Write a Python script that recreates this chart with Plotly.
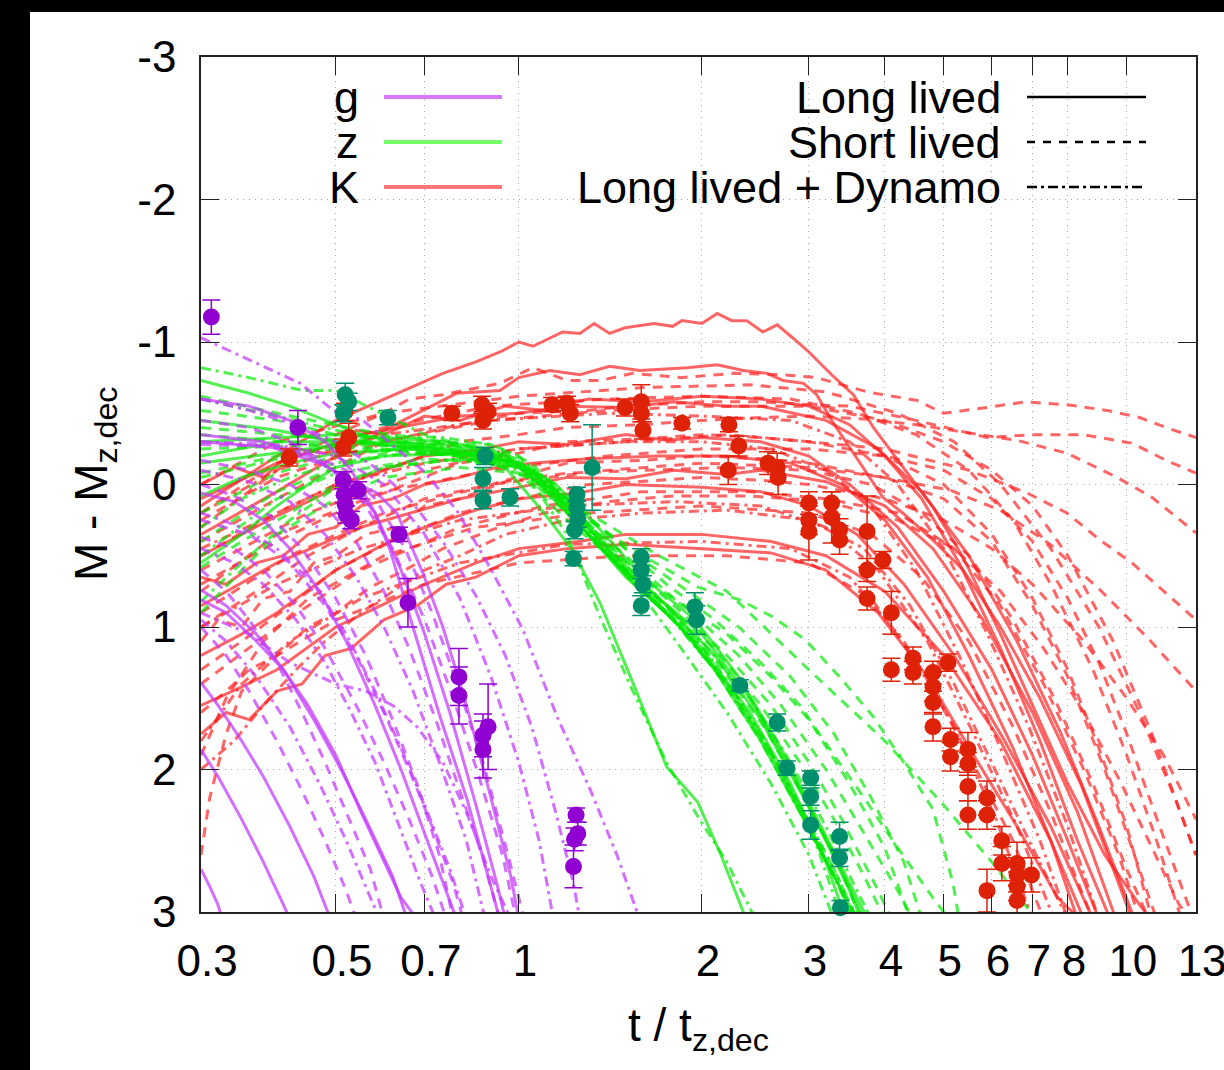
import math
import plotly.graph_objects as go

# ---------------------------------------------------------------------------
# Model light curves: (model, t / t_z,dec, M - M_z,dec)
# model: "long" = Long lived, "short" = Short lived, "dynamo" = Long lived + Dynamo
# ---------------------------------------------------------------------------
K_CURVES = [
    ("long",
     [0.3, 0.4, 0.5, 0.645, 0.75, 0.85, 0.931, 1.0, 1.055, 1.18, 1.26, 1.33, 1.41, 1.495, 1.67, 1.79, 1.855, 2.0,
      2.12, 2.24, 2.37, 2.52, 2.66, 2.82, 3.0, 3.27, 3.55, 3.83, 4.12, 4.45, 4.8, 5.26, 5.48, 6.2, 7.0, 8.0, 9.2,
      10.5, 11.2],
     [0.15, -0.2, -0.45, -0.66, -0.78, -0.86, -0.93, -1.0, -0.97, -1.07, -1.06, -1.13, -1.06, -1.1, -1.13, -1.11,
      -1.15, -1.13, -1.2, -1.15, -1.15, -1.07, -1.12, -1.03, -0.93, -0.77, -0.63, -0.40, -0.22, -0.03, 0.16, 0.44,
      0.58, 1.05, 1.55, 2.1, 2.6, 2.95, 3.1]),
    ("long",
     [0.3, 0.4, 0.5, 0.645, 0.79, 0.931, 1.0, 1.125, 1.26, 1.41, 1.58, 1.89, 2.12, 2.34, 2.56, 2.72, 2.94, 3.09, 3.27,
      3.5, 3.74, 3.97, 4.28, 4.8, 5.38, 6.2, 7.2, 8.4, 9.7, 10.3],
     [0.35, 0.05, -0.2, -0.45, -0.64, -0.66, -0.75, -0.8, -0.77, -0.83, -0.8, -0.82, -0.84, -0.8, -0.78, -0.73, -0.71,
      -0.63, -0.45, -0.26, -0.08, 0.09, 0.2, 0.39, 0.6, 1.0, 1.5, 2.1, 2.8, 3.1]),
    ("long",
     [0.3, 0.35, 0.4, 0.45, 0.5, 0.6, 0.7, 0.85, 1.0, 1.2, 1.5, 1.75, 2.0, 2.5, 3.0, 3.5, 4.2, 5.0, 6.0, 7.0, 8.0, 9.0],
     [0.5, 0.35, 0.22, 0.12, 0.02, -0.1, -0.2, -0.24, -0.3, -0.28, -0.35, -0.31, -0.33, -0.3, -0.2, 0.0, 0.3, 0.75,
      1.3, 1.9, 2.5, 3.05]),
    ("long",
     [0.3, 0.35, 0.4, 0.5, 0.6, 0.7, 0.85, 1.0, 1.25, 1.5, 2.0, 2.5, 3.0, 3.6, 4.3, 5.2, 6.3, 7.5, 8.8],
     [1.2, 1.05, 0.9, 0.6, 0.42, 0.3, 0.18, 0.1, 0.06, 0.0, 0.02, 0.05, 0.15, 0.35, 0.7, 1.2, 1.8, 2.4, 3.05]),
    ("long",
     [0.3, 0.35, 0.4, 0.5, 0.6, 0.7, 0.85, 1.0, 1.25, 1.5, 2.0, 2.6, 3.2, 4.0, 5.0, 6.2, 7.5, 8.5],
     [1.55, 1.42, 1.3, 1.0, 0.84, 0.7, 0.55, 0.45, 0.4, 0.35, 0.35, 0.4, 0.5, 0.75, 1.2, 1.8, 2.5, 3.05]),
    ("long",
     [0.3, 0.4, 0.55, 0.8, 1.0, 1.2, 1.5, 1.8, 2.2, 2.5, 3.2, 4.0, 4.8, 5.8, 7.0, 8.3, 9.6],
     [0.85, 0.55, 0.3, 0.1, 0.02, -0.05, -0.04, -0.1, -0.07, -0.1, -0.02, 0.15, 0.45, 0.95, 1.6, 2.3, 3.05]),
    ("long",
     [0.3, 0.4, 0.55, 0.8, 1.0, 1.2, 1.5, 1.8, 2.2, 2.5, 3.2, 3.9, 4.6, 5.5, 6.6, 7.8, 9.0, 10.3],
     [0.1, -0.15, -0.35, -0.48, -0.5, -0.55, -0.54, -0.58, -0.55, -0.55, -0.45, -0.25, 0.05, 0.5, 1.1, 1.75, 2.4,
      3.05]),
    ("long",
     [0.3, 0.33, 0.37, 0.41, 0.45, 0.5, 0.55, 0.62, 0.7, 0.8, 0.92, 1.05, 1.3, 1.7, 2.2, 2.8, 3.4, 4.0, 4.7, 5.5,
      6.5, 7.5, 8.3],
     [0.65, 0.7, 0.55, 0.5, 0.35, 0.3, 0.15, 0.1, 0.0, -0.05, -0.12, -0.15, -0.18, -0.2, -0.2, -0.15, 0.0, 0.25,
      0.65, 1.2, 1.85, 2.5, 3.05]),
    ("long",
     [0.3, 0.34, 0.38, 0.43, 0.48, 0.54, 0.6, 0.7, 0.8, 0.95, 1.1, 1.3, 1.6, 2.0, 2.5, 3.0, 3.5, 4.0, 4.6, 5.3, 6.2,
      7.2, 8.3, 9.5],
     [0.0, -0.12, -0.05, -0.25, -0.22, -0.38, -0.35, -0.48, -0.45, -0.55, -0.52, -0.6, -0.58, -0.62, -0.6, -0.55,
      -0.42, -0.2, 0.1, 0.55, 1.15, 1.8, 2.5, 3.1]),
    ("long",
     [0.3, 0.33, 0.36, 0.4, 0.44, 0.48, 0.53, 0.6, 0.68, 0.76, 0.85, 1.0, 1.2, 1.5, 2.0, 2.6, 3.2, 3.9, 4.7, 5.6,
      6.6, 7.7, 8.6],
     [1.75, 1.6, 1.65, 1.45, 1.4, 1.2, 1.15, 0.95, 0.85, 0.7, 0.65, 0.5, 0.45, 0.42, 0.45, 0.48, 0.6, 0.9, 1.35, 1.9,
      2.4, 2.9, 3.1]),
    ("short",
     [0.3, 0.4, 0.5, 0.6, 0.66, 0.75, 0.93, 1.055, 1.2, 1.36, 1.54, 1.85, 2.25, 2.72, 3.09, 3.74, 4.52, 4.99, 5.89,
      6.8, 7.97, 9.28, 10.5, 11.6, 13.0],
     [0.3, -0.1, -0.35, -0.5, -0.6, -0.63, -0.71, -0.82, -0.73, -0.73, -0.78, -0.75, -0.78, -0.77, -0.75, -0.65,
      -0.59, -0.5, -0.54, -0.58, -0.56, -0.52, -0.47, -0.4, -0.33]),
    ("short",
     [0.3, 0.4, 0.6, 0.8, 1.0, 1.3, 1.5, 2.0, 2.5, 3.0, 3.5, 4.5, 5.89, 7.0, 8.47, 10.2, 11.6, 13.0],
     [0.4, 0.1, -0.3, -0.42, -0.5, -0.52, -0.55, -0.58, -0.58, -0.56, -0.55, -0.45, -0.33, -0.35, -0.35, -0.29,
      -0.17, -0.08]),
    ("short",
     [0.3, 0.4, 0.5, 0.65, 0.8, 1.0, 1.2, 1.6, 2.0, 2.5, 3.0, 3.7, 4.5, 5.5, 6.6, 7.97, 9.64, 11.0, 12.1, 13.0],
     [0.5, 0.2, 0.0, -0.15, -0.3, -0.35, -0.4, -0.42, -0.45, -0.47, -0.48, -0.46, -0.42, -0.36, -0.31, -0.22, -0.05,
      0.09, 0.23, 0.34]),
    ("short",
     [0.3, 0.4, 0.5, 0.65, 0.8, 1.0, 1.2, 1.6, 2.0, 2.5, 3.0, 4.0, 5.5, 6.86, 7.97, 9.04, 10.2, 11.3, 13.0],
     [0.7, 0.4, 0.2, 0.0, -0.15, -0.22, -0.3, -0.32, -0.35, -0.33, -0.3, -0.25, -0.1, 0.06, 0.2, 0.39, 0.55, 0.72,
      0.95]),
    ("short",
     [0.3, 0.37, 0.45, 0.55, 0.7, 0.9, 1.2, 1.6, 2.0, 2.5, 3.0, 4.0, 5.12, 6.19, 7.48, 9.04, 10.9, 13.0],
     [1.0, 0.75, 0.5, 0.3, 0.1, 0.0, -0.15, -0.17, -0.2, -0.18, -0.15, -0.05, 0.04, 0.18, 0.42, 0.74, 1.09, 1.45]),
    ("short",
     [0.3, 0.35, 0.42, 0.5, 0.65, 0.8, 1.0, 1.3, 1.7, 2.0, 2.5, 3.0, 4.0, 5.0, 6.0, 7.0, 8.5, 10.0, 11.5, 13.0],
     [1.3, 1.1, 0.85, 0.6, 0.35, 0.2, 0.1, 0.0, -0.03, -0.05, -0.03, 0.0, 0.1, 0.25, 0.45, 0.7, 1.1, 1.5, 1.9,
      2.35]),
    ("short",
     [0.3, 0.45, 0.7, 1.0, 1.5, 2.2, 3.0, 4.0, 5.0, 6.0, 7.0, 8.0, 9.0, 10.0, 11.0],
     [0.6, 0.2, -0.1, -0.25, -0.3, -0.35, -0.3, -0.2, 0.0, 0.35, 0.8, 1.3, 1.85, 2.4, 3.05]),
    ("short",
     [0.3, 0.4, 0.55, 0.8, 1.1, 1.6, 2.4, 3.2, 4.2, 5.2, 6.2, 7.3, 8.5, 9.7, 10.5],
     [1.4, 1.0, 0.6, 0.3, 0.15, 0.05, 0.05, 0.1, 0.2, 0.45, 0.85, 1.4, 2.0, 2.6, 3.05]),
    ("short",
     [0.3, 0.4, 0.6, 0.9, 1.4, 2.0, 2.8, 3.6, 4.5, 5.5, 6.5, 7.5, 8.8, 10.0, 11.2, 12.3],
     [0.2, -0.15, -0.4, -0.55, -0.6, -0.62, -0.6, -0.5, -0.35, -0.1, 0.25, 0.7, 1.3, 1.9, 2.5, 3.05]),
    ("short",
     [0.3, 0.42, 0.6, 0.9, 1.4, 2.0, 3.0, 4.0, 5.0, 6.0, 7.0, 8.0, 9.2, 10.5, 11.2],
     [0.9, 0.5, 0.2, 0.0, -0.1, -0.15, -0.12, -0.05, 0.1, 0.4, 0.85, 1.35, 2.0, 2.7, 3.05]),
    ("short",
     [0.3, 0.4, 0.6, 1.0, 1.6, 2.4, 3.2, 4.2, 5.2, 6.2, 7.5, 9.0, 10.5, 12.0, 13.0],
     [0.0, -0.3, -0.5, -0.62, -0.68, -0.7, -0.65, -0.5, -0.3, 0.0, 0.45, 1.0, 1.6, 2.2, 2.6]),
    ("short",
     [0.3, 0.33, 0.38, 0.45, 0.6, 0.85, 1.3, 2.0, 3.0, 3.8, 4.6, 5.5, 6.5, 7.5, 8.5, 8.8],
     [1.9, 1.5, 1.1, 0.8, 0.5, 0.3, 0.2, 0.15, 0.2, 0.35, 0.65, 1.1, 1.7, 2.3, 2.9, 3.05]),
    ("short",
     [0.3, 0.31, 0.33, 0.35, 0.4, 0.5, 0.7, 1.0, 1.5, 2.2, 3.0, 3.8, 4.6, 5.5, 6.5, 7.3],
     [2.6, 2.2, 1.75, 1.45, 1.2, 0.95, 0.7, 0.55, 0.5, 0.5, 0.55, 0.8, 1.3, 1.9, 2.5, 3.05]),
    ("short",
     [0.3, 0.4, 0.6, 0.9, 1.4, 2.0, 3.0, 4.0, 5.0, 6.0, 7.0, 8.0, 9.0, 10.0, 11.0, 12.0, 13.0],
     [0.75, 0.35, 0.05, -0.1, -0.2, -0.25, -0.25, -0.2, -0.1, 0.1, 0.4, 0.8, 1.25, 1.75, 2.25, 2.7, 3.1]),
    ("short",
     [0.3, 0.4, 0.6, 0.9, 1.4, 2.0, 3.0, 4.0, 5.0, 6.0, 7.0, 8.0, 9.5, 11.0, 12.5, 13.0],
     [0.25, -0.05, -0.3, -0.45, -0.52, -0.55, -0.55, -0.45, -0.3, -0.1, 0.15, 0.5, 1.1, 1.75, 2.4, 2.6]),
    ("short",
     [0.3, 0.32, 0.35, 0.38, 0.42, 0.46, 0.5, 0.56, 0.63, 0.7, 0.8, 0.95, 1.2, 1.6, 2.2, 3.0, 3.8, 4.6, 5.5, 6.5,
      7.6, 8.8, 10.0, 11.0],
     [1.1, 0.95, 1.0, 0.8, 0.75, 0.55, 0.5, 0.35, 0.3, 0.15, 0.1, -0.02, -0.08, -0.1, -0.12, -0.1, 0.0, 0.2, 0.5,
      0.95, 1.5, 2.1, 2.7, 3.1]),
    ("short",
     [0.3, 0.33, 0.36, 0.4, 0.45, 0.5, 0.57, 0.65, 0.75, 0.9, 1.1, 1.4, 1.8, 2.4, 3.2, 4.2, 5.2, 6.2, 7.3, 8.5, 9.8,
      11.0, 12.2, 13.0],
     [1.6, 1.45, 1.3, 1.2, 1.0, 0.9, 0.72, 0.6, 0.45, 0.32, 0.2, 0.12, 0.08, 0.08, 0.12, 0.25, 0.45, 0.75, 1.15,
      1.6, 2.1, 2.55, 2.95, 3.1]),
    ("dynamo",
     [0.3, 0.4, 0.5, 0.7, 1.0, 1.5, 2.0, 2.6, 3.2, 3.8, 4.5, 5.3, 6.2, 7.2, 8.0],
     [0.45, 0.2, 0.0, -0.15, -0.25, -0.3, -0.3, -0.25, -0.1, 0.15, 0.6, 1.2, 1.85, 2.5, 3.05]),
    ("dynamo",
     [0.3, 0.4, 0.55, 0.8, 1.2, 1.8, 2.5, 3.2, 3.9, 4.7, 5.6, 6.6, 7.6],
     [1.0, 0.7, 0.45, 0.25, 0.15, 0.12, 0.15, 0.3, 0.6, 1.1, 1.75, 2.4, 3.05]),
    ("dynamo",
     [0.3, 0.35, 0.42, 0.55, 0.8, 1.2, 2.0, 2.8, 3.5, 4.3, 5.2, 6.1, 7.0],
     [1.8, 1.4, 1.1, 0.8, 0.55, 0.42, 0.4, 0.45, 0.65, 1.1, 1.7, 2.35, 3.05]),
    ("dynamo",
     [0.3, 0.4, 0.6, 0.9, 1.4, 2.0, 2.8, 3.5, 4.2, 5.0, 5.9, 6.9, 8.0, 9.0],
     [0.2, -0.1, -0.35, -0.45, -0.5, -0.48, -0.45, -0.3, 0.0, 0.45, 1.05, 1.7, 2.4, 3.05]),
    ("dynamo",
     [0.3, 0.34, 0.38, 0.43, 0.48, 0.55, 0.62, 0.7, 0.8, 0.95, 1.2, 1.6, 2.2, 3.0, 3.7, 4.4, 5.2, 6.0, 7.0, 8.0],
     [2.0, 1.8, 1.55, 1.3, 1.1, 0.9, 0.75, 0.6, 0.5, 0.35, 0.25, 0.2, 0.18, 0.25, 0.45, 0.85, 1.4, 1.95, 2.55,
      3.05]),
]

Z_CURVES = [
    ("long",
     [0.3, 0.36, 0.42, 0.48, 0.55, 0.65, 0.8, 1.0, 1.15, 1.3, 1.5, 1.8, 2.1, 2.5, 2.9, 3.3, 3.6],
     [-0.73, -0.64, -0.55, -0.45, -0.35, -0.28, -0.22, -0.15, 0.05, 0.35, 0.65, 0.95, 1.3, 1.8, 2.3, 2.75, 3.05]),
    ("long",
     [0.3, 0.4, 0.55, 0.75, 0.95, 1.1, 1.22, 1.36, 1.54, 1.75, 1.97, 2.15, 2.34, 2.4],
     [-0.2, -0.3, -0.3, -0.22, -0.12, 0.2, 0.45, 0.83, 1.39, 1.98, 2.23, 2.6, 3.0, 3.1]),
    ("long",
     [0.3, 0.35, 0.42, 0.5, 0.65, 0.85, 1.0, 1.2, 1.4, 1.7, 2.0, 2.4, 2.8, 3.2, 3.5, 3.7],
     [0.08, -0.05, -0.15, -0.22, -0.25, -0.2, -0.12, 0.15, 0.45, 0.8, 1.05, 1.5, 2.0, 2.5, 2.85, 3.1]),
    ("long",
     [0.3, 0.35, 0.4, 0.45, 0.5, 0.6, 0.8, 1.0, 1.2, 1.45, 1.75, 2.1, 2.5, 2.9, 3.3, 3.7],
     [0.55, 0.35, 0.15, 0.0, -0.12, -0.2, -0.22, -0.15, 0.2, 0.55, 0.85, 1.2, 1.65, 2.15, 2.6, 3.05]),
    ("long",
     [0.3, 0.4, 0.5, 0.65, 0.85, 1.0, 1.15, 1.35, 1.6, 1.95, 2.3, 2.7, 3.1, 3.5, 3.75],
     [-0.45, -0.38, -0.3, -0.27, -0.22, -0.15, 0.0, 0.3, 0.65, 0.95, 1.35, 1.85, 2.35, 2.8, 3.05]),
    ("long",
     [0.3, 0.4, 0.55, 0.75, 0.95, 1.1, 1.3, 1.55, 1.85, 2.2, 2.6, 3.0, 3.35, 3.55],
     [-0.15, -0.22, -0.3, -0.28, -0.2, -0.02, 0.35, 0.7, 1.0, 1.4, 1.9, 2.4, 2.8, 3.05]),
    ("long",
     [0.3, 0.4, 0.5, 0.6, 0.75, 0.9, 1.05, 1.2, 1.4, 1.65, 2.0, 2.4, 2.8, 3.2, 3.45],
     [-0.3, -0.33, -0.35, -0.33, -0.3, -0.25, -0.1, 0.15, 0.45, 0.8, 1.15, 1.6, 2.1, 2.65, 3.05]),
    ("short",
     [0.3, 0.4, 0.5, 0.7, 0.9, 1.1, 1.3, 1.6, 1.97, 2.31, 2.62, 2.96, 3.37, 3.83, 4.24, 4.8, 5.18, 5.3],
     [-0.52, -0.45, -0.35, -0.28, -0.2, -0.05, 0.25, 0.5, 0.72, 0.81, 0.93, 1.09, 1.35, 1.63, 1.91, 2.28, 2.8,
      3.05]),
    ("short",
     [0.3, 0.35, 0.42, 0.5, 0.6, 0.8, 1.0, 1.2, 1.5, 1.8, 2.2, 2.6, 3.0, 3.5, 4.0, 4.4],
     [0.58, 0.4, 0.2, 0.0, -0.12, -0.18, -0.12, 0.15, 0.5, 0.8, 1.05, 1.35, 1.65, 2.1, 2.55, 3.05]),
    ("short",
     [0.3, 0.5, 0.8, 1.0, 1.3, 1.7, 2.2, 3.0, 4.0, 5.0, 6.0, 7.1],
     [-0.25, -0.28, -0.2, -0.12, 0.2, 0.5, 0.75, 1.3, 1.8, 2.25, 2.65, 3.05]),
    ("short",
     [0.3, 0.35, 0.4, 0.5, 0.6, 0.8, 1.0, 1.2, 1.5, 1.8, 2.1, 2.5, 2.9, 3.3, 3.6],
     [0.9, 0.6, 0.35, 0.1, -0.05, -0.12, -0.08, 0.25, 0.6, 0.95, 1.3, 1.75, 2.25, 2.7, 3.05]),
    ("short",
     [0.3, 0.4, 0.55, 0.75, 1.0, 1.2, 1.5, 1.9, 2.3, 2.8, 3.3, 3.8, 4.3, 4.6],
     [-0.08, -0.2, -0.28, -0.25, -0.15, 0.1, 0.45, 0.75, 1.0, 1.35, 1.75, 2.2, 2.65, 3.05]),
    ("short",
     [0.3, 0.4, 0.55, 0.8, 1.0, 1.2, 1.45, 1.75, 2.1, 2.5, 2.9, 3.3, 3.7, 4.0],
     [-0.35, -0.3, -0.25, -0.2, -0.12, 0.12, 0.5, 0.85, 1.15, 1.55, 1.95, 2.35, 2.75, 3.05]),
    ("short",
     [0.3, 0.4, 0.5, 0.7, 0.9, 1.05, 1.25, 1.5, 1.8, 2.15, 2.55, 2.95, 3.35, 3.65],
     [0.2, -0.08, -0.2, -0.27, -0.22, -0.08, 0.28, 0.62, 0.92, 1.28, 1.72, 2.2, 2.65, 3.05]),
    ("short",
     [0.3, 0.4, 0.55, 0.75, 0.95, 1.1, 1.3, 1.55, 1.9, 2.3, 2.7, 3.2, 3.7, 4.2, 4.45],
     [-0.62, -0.5, -0.38, -0.3, -0.22, -0.05, 0.28, 0.6, 0.88, 1.2, 1.55, 2.0, 2.45, 2.85, 3.05]),
    ("short",
     [0.3, 0.4, 0.5, 0.6, 0.75, 0.9, 1.05, 1.25, 1.5, 1.8, 2.2, 2.6, 3.0, 3.4, 3.9, 4.1],
     [0.4, 0.05, -0.12, -0.22, -0.3, -0.28, -0.15, 0.2, 0.55, 0.85, 1.2, 1.55, 1.95, 2.35, 2.85, 3.05]),
    ("short",
     [0.3, 0.4, 0.55, 0.7, 0.85, 1.0, 1.2, 1.45, 1.75, 2.1, 2.5, 2.9, 3.3, 3.7, 4.2, 4.8, 5.1],
     [-0.4, -0.35, -0.3, -0.3, -0.25, -0.15, 0.1, 0.4, 0.7, 0.95, 1.25, 1.55, 1.9, 2.2, 2.55, 2.9, 3.05]),
    ("dynamo",
     [0.3, 0.36, 0.44, 0.5, 0.55, 0.7, 0.85, 1.0, 1.15, 1.3, 1.5, 1.8, 2.1, 2.5, 2.9, 3.3, 3.6],
     [-0.82, -0.75, -0.66, -0.66, -0.57, -0.35, -0.25, -0.18, 0.0, 0.3, 0.6, 0.9, 1.25, 1.75, 2.25, 2.7, 3.05]),
    ("dynamo",
     [0.3, 0.35, 0.42, 0.5, 0.65, 0.85, 1.0, 1.25, 1.55, 1.85, 2.2, 2.6, 3.0, 3.3],
     [0.3, 0.1, -0.05, -0.15, -0.22, -0.2, -0.12, 0.25, 0.7, 1.15, 1.6, 2.1, 2.6, 3.05]),
    ("dynamo",
     [0.3, 0.4, 0.5, 0.65, 0.85, 1.0, 1.2, 1.36, 1.54, 1.75, 1.97, 2.2, 2.45],
     [-0.6, -0.48, -0.38, -0.3, -0.22, -0.15, 0.35, 0.93, 1.45, 1.95, 2.33, 2.65, 3.05]),
    ("dynamo",
     [0.3, 0.4, 0.5, 0.7, 0.9, 1.1, 1.3, 1.6, 2.0, 2.4, 2.8, 3.2, 3.6, 3.8],
     [0.5, 0.1, -0.08, -0.18, -0.15, 0.0, 0.35, 0.75, 1.1, 1.5, 1.95, 2.4, 2.85, 3.05]),
    ("dynamo",
     [0.3, 0.35, 0.42, 0.5, 0.6, 0.8, 1.0, 1.2, 1.45, 1.75, 2.1, 2.5, 2.9, 3.3, 3.55],
     [0.82, 0.55, 0.25, 0.02, -0.12, -0.18, -0.1, 0.2, 0.55, 0.9, 1.3, 1.8, 2.3, 2.75, 3.05]),
    ("dynamo",
     [0.3, 0.4, 0.5, 0.6, 0.75, 0.9, 1.0, 1.15, 1.35, 1.6, 1.9, 2.3, 2.7, 3.1, 3.4],
     [-0.05, -0.18, -0.28, -0.34, -0.33, -0.28, -0.2, 0.05, 0.4, 0.75, 1.05, 1.5, 2.0, 2.55, 3.05]),
]

G_CURVES = [
    ("long",
     [0.3, 0.394, 0.476, 0.527, 0.584, 0.63, 0.695, 0.75, 0.82, 0.9, 0.97, 1.0],
     [-0.3, -0.26, -0.14, -0.03, 0.06, 0.2, 0.62, 1.0, 1.55, 2.2, 2.75, 3.05]),
    ("long",
     [0.3, 0.38, 0.45, 0.52, 0.58, 0.614, 0.662, 0.742, 0.822, 0.896, 0.93],
     [-0.35, -0.3, -0.2, -0.05, 0.2, 0.46, 0.93, 1.63, 2.21, 2.8, 3.05]),
    ("long",
     [0.3, 0.36, 0.42, 0.48, 0.53, 0.58, 0.64, 0.7, 0.77, 0.85, 0.92, 0.95],
     [-0.6, -0.55, -0.45, -0.3, -0.1, 0.2, 0.6, 1.05, 1.6, 2.25, 2.8, 3.05]),
    ("long",
     [0.3, 0.34, 0.38, 0.42, 0.47, 0.52, 0.58, 0.64, 0.7, 0.76, 0.79],
     [0.06, 0.12, 0.25, 0.45, 0.75, 1.1, 1.55, 2.0, 2.45, 2.85, 3.05]),
    ("long",
     [0.3, 0.33, 0.37, 0.41, 0.46, 0.51, 0.56, 0.62, 0.655],
     [0.74, 0.85, 1.05, 1.3, 1.65, 2.0, 2.35, 2.75, 3.05]),
    ("long",
     [0.3, 0.32, 0.35, 0.38, 0.42, 0.46, 0.49],
     [1.39, 1.55, 1.8, 2.05, 2.4, 2.75, 3.05]),
    ("long",
     [0.3, 0.31, 0.32, 0.325],
     [2.7, 2.82, 2.95, 3.05]),
    ("long",
     [0.3, 0.32, 0.35, 0.38, 0.41, 0.42],
     [1.86, 2.05, 2.35, 2.65, 2.95, 3.05]),
    ("long",
     [0.3, 0.33, 0.37, 0.41, 0.45, 0.5, 0.55, 0.6, 0.64, 0.68],
     [0.81, 0.9, 1.1, 1.3, 1.55, 1.9, 2.3, 2.65, 2.9, 3.05]),
    ("short",
     [0.3, 0.36, 0.42, 0.48, 0.54, 0.6, 0.66, 0.73, 0.8, 0.87, 0.93],
     [-0.17, -0.1, 0.0, 0.15, 0.4, 0.75, 1.15, 1.65, 2.15, 2.6, 3.05]),
    ("short",
     [0.3, 0.34, 0.38, 0.43, 0.48, 0.54, 0.6, 0.66, 0.72, 0.76],
     [0.37, 0.45, 0.6, 0.85, 1.15, 1.55, 1.95, 2.35, 2.75, 3.05]),
    ("short",
     [0.3, 0.33, 0.36, 0.4, 0.44, 0.48, 0.52, 0.57, 0.6],
     [0.6, 0.75, 0.95, 1.25, 1.6, 1.95, 2.3, 2.7, 3.05]),
    ("short",
     [0.3, 0.36, 0.42, 0.48, 0.55, 0.62, 0.7, 0.78, 0.86, 0.94, 0.99],
     [-0.45, -0.4, -0.3, -0.15, 0.1, 0.45, 0.95, 1.5, 2.05, 2.6, 3.05]),
    ("short",
     [0.3, 0.33, 0.36, 0.4, 0.44, 0.48, 0.52, 0.54],
     [1.0, 1.2, 1.45, 1.8, 2.15, 2.5, 2.85, 3.05]),
    ("short",
     [0.3, 0.36, 0.42, 0.48, 0.54, 0.6, 0.66, 0.72, 0.78, 0.81],
     [0.25, 0.35, 0.55, 0.85, 1.2, 1.6, 2.0, 2.4, 2.8, 3.05]),
    ("short",
     [0.3, 0.38, 0.45, 0.52, 0.58, 0.65, 0.72, 0.8, 0.88, 0.96, 1.02],
     [-0.28, -0.27, -0.22, -0.1, 0.1, 0.45, 0.9, 1.45, 2.0, 2.6, 3.05]),
    ("short",
     [0.3, 0.34, 0.39, 0.44, 0.5, 0.56, 0.62, 0.68, 0.74, 0.78],
     [0.0, 0.08, 0.22, 0.45, 0.8, 1.2, 1.65, 2.1, 2.6, 3.05]),
    ("dynamo",
     [0.3, 0.371, 0.437, 0.495, 0.554, 0.614, 0.695, 0.79, 0.896, 1.016, 1.156, 1.31, 1.45, 1.58],
     [-1.03, -0.85, -0.71, -0.52, -0.45, -0.29, -0.1, 0.18, 0.58, 1.02, 1.63, 2.14, 2.6, 3.05]),
    ("dynamo",
     [0.3, 0.36, 0.43, 0.5, 0.58, 0.66, 0.75, 0.85, 0.95, 1.05, 1.15, 1.23, 1.26],
     [-0.6, -0.52, -0.42, -0.3, -0.12, 0.1, 0.4, 0.78, 1.2, 1.7, 2.3, 2.8, 3.05]),
    ("dynamo",
     [0.3, 0.35, 0.4, 0.46, 0.52, 0.58, 0.64, 0.7, 0.77, 0.82],
     [0.2, 0.3, 0.45, 0.7, 1.05, 1.45, 1.85, 2.25, 2.7, 3.05]),
    ("dynamo",
     [0.3, 0.36, 0.42, 0.48, 0.54, 0.6, 0.67, 0.74, 0.82, 0.88],
     [-0.1, -0.02, 0.12, 0.35, 0.65, 1.0, 1.45, 1.95, 2.5, 3.05]),
    ("dynamo",
     [0.3, 0.33, 0.37, 0.42, 0.47, 0.52, 0.57, 0.59],
     [0.95, 1.1, 1.35, 1.7, 2.1, 2.5, 2.9, 3.05]),
    ("dynamo",
     [0.3, 0.4, 0.5, 0.6, 0.7, 0.8, 0.9, 1.0, 1.08, 1.14],
     [-0.3, -0.28, -0.2, 0.0, 0.35, 0.8, 1.35, 1.95, 2.5, 3.05]),
    ("dynamo",
     [0.3, 0.34, 0.38, 0.43, 0.48, 0.53, 0.58, 0.63, 0.69, 0.73],
     [0.45, 0.55, 0.7, 0.95, 1.25, 1.6, 1.95, 2.35, 2.8, 3.05]),
    ("dynamo",
     [0.3, 0.36, 0.42, 0.5, 0.56, 0.62, 0.68, 0.75, 0.82, 0.9, 0.97],
     [0.9, 1.05, 1.25, 1.4, 1.45, 1.55, 1.7, 1.95, 2.3, 2.75, 3.05]),
]

# ---------------------------------------------------------------------------
# Observed photometry: t / t_z,dec, M - M_z,dec, 1-sigma error
# ---------------------------------------------------------------------------
G_OBS_T = [0.312, 0.433, 0.514, 0.516, 0.518, 0.52, 0.544, 0.53, 0.635, 0.657, 0.797, 0.797, 0.873, 0.89, 0.873,
           1.242, 1.25, 1.235, 1.23]
G_OBS_M = [-1.175, -0.40, -0.03, 0.07, 0.14, 0.21, 0.04, 0.25, 0.35, 0.83, 1.35, 1.48, 1.76, 1.70, 1.86,
           2.32, 2.45, 2.49, 2.68]
G_OBS_ERR = [0.12, 0.12, 0.06, 0.06, 0.06, 0.06, 0.06, 0.06, 0.05, 0.17, 0.2, 0.2, 0.15, 0.3, 0.2,
             0.05, 0.08, 0.08, 0.15]

Z_OBS_T = [0.518, 0.525, 0.514, 0.609, 0.88, 0.873, 0.873, 0.967, 1.246, 1.246, 1.25, 1.235, 1.23, 1.32, 1.59,
           1.59, 1.60, 1.59, 1.948, 1.96, 2.31, 2.66, 2.76, 3.02, 3.02, 3.02, 3.37, 3.37, 3.38]
Z_OBS_M = [-0.63, -0.58, -0.50, -0.47, -0.20, -0.04, 0.11, 0.09, 0.07, 0.16, 0.24, 0.32, 0.52, -0.12, 0.51,
           0.60, 0.70, 0.85, 0.86, 0.95, 1.41, 1.67, 1.99, 2.06, 2.19, 2.39, 2.47, 2.62, 2.97]
Z_OBS_ERR = [0.08, 0.06, 0.06, 0.05, 0.06, 0.08, 0.06, 0.06, 0.05, 0.05, 0.06, 0.06, 0.05, 0.3, 0.06,
             0.06, 0.06, 0.07, 0.1, 0.1, 0.04, 0.06, 0.05, 0.05, 0.06, 0.1, 0.1, 0.06, 0.05]

K_OBS_T = [0.419, 0.518, 0.525, 0.514, 0.776, 0.87, 0.89, 0.873, 1.134, 1.20, 1.215, 1.495, 1.59, 1.59, 1.60,
           1.855, 2.216, 2.30, 2.21, 2.57, 2.66, 2.67, 3.0, 3.0, 3.0, 3.27, 3.27, 3.37, 3.37, 3.74, 3.74, 3.74,
           3.97, 4.1, 4.1, 4.45, 4.45, 4.8, 4.8, 4.8, 4.8, 5.08, 5.13, 5.13, 5.48, 5.48, 5.48, 5.48, 5.89, 5.89,
           5.89, 6.23, 6.23, 6.6, 6.6, 6.6, 6.6, 6.97]
K_OBS_M = [-0.19, -0.51, -0.33, -0.26, -0.50, -0.56, -0.51, -0.45, -0.56, -0.57, -0.50, -0.54, -0.58, -0.50,
           -0.38, -0.43, -0.42, -0.27, -0.10, -0.15, -0.12, -0.05, 0.13, 0.25, 0.33, 0.13, 0.23, 0.32, 0.39, 0.33,
           0.60, 0.80, 0.53, 0.90, 1.30, 1.22, 1.32, 1.32, 1.42, 1.53, 1.70, 1.25, 1.79, 1.91, 1.86, 1.96, 2.12,
           2.32, 2.20, 2.32, 2.85, 2.50, 2.66, 2.66, 2.74, 2.82, 2.92, 2.74]
K_OBS_ERR = [0.06, 0.06, 0.1, 0.06, 0.05, 0.06, 0.06, 0.06, 0.05, 0.05, 0.06, 0.06, 0.12, 0.06, 0.06, 0.04,
             0.05, 0.07, 0.1, 0.08, 0.1, 0.12, 0.08, 0.1, 0.2, 0.08, 0.18, 0.08, 0.1, 0.25, 0.08, 0.08, 0.06,
             0.15, 0.08, 0.08, 0.08, 0.08, 0.1, 0.08, 0.1, 0.06, 0.08, 0.1, 0.12, 0.08, 0.1, 0.1, 0.12, 0.1,
             0.15, 0.1, 0.12, 0.15, 0.12, 0.1, 0.1, 0.12]

# Axis ticks
X_TICKS = [0.3, 0.5, 0.7, 1, 2, 3, 4, 5, 6, 7, 8, 10, 13]
X_TICK_TEXT = ["0.3", "0.5", "0.7", "1", "2", "3", "4", "5", "6", "7", "8", "10", "13"]
Y_TICKS = [-3, -2, -1, 0, 1, 2, 3]
Y_TICK_TEXT = ["-3", "-2", "-1", "0", "1", "2", "3"]

BAND_NAMES = ["g", "z", "K"]
MODEL_NAMES = ["Long lived", "Short lived", "Long lived + Dynamo"]

# ---------------------------------------------------------------------------
# Styling
# ---------------------------------------------------------------------------
FONT = "Liberation Sans, Arial, Helvetica, sans-serif"
FS_TICK = 44
FS_KEY = 45
FS_TITLE = 46
LINE_COLOR = {"g": "rgba(196,60,255,0.74)", "z": "rgba(0,232,0,0.68)", "K": "rgba(255,28,28,0.68)"}
KEY_COLOR = {"g": "#dc78ff", "z": "#74ff66", "K": "#ff7474"}
OBS_COLOR = {"g": "#9000d0", "z": "#008f6c", "K": "#de2208"}
DASH = {"long": "solid", "short": "10px,8px", "dynamo": "10px,5px,3px,5px"}
KEY_DASH = {"Long lived": "solid", "Short lived": "8px,8px", "Long lived + Dynamo": "10px,4px,3px,4px"}

W, H = 1224, 1070
ML, MR, MT, MB = 201, 28, 57, 158
PW, PH = W - ML - MR, H - MT - MB


def px(x):
    return (x - ML) / PW


def py(y):
    return (H - MB - y) / PH


fig = go.Figure()

# Model curves: K first, then z, then g on top
for band, curves in (("K", K_CURVES), ("z", Z_CURVES), ("g", G_CURVES)):
    for model, t, m in curves:
        fig.add_trace(go.Scatter(
            x=t, y=m, mode="lines", showlegend=False, hoverinfo="skip",
            line=dict(color=LINE_COLOR[band], width=3, dash=DASH[model]),
        ))

# Observations with error bars
for band, t, m, e in (("K", K_OBS_T, K_OBS_M, K_OBS_ERR),
                      ("z", Z_OBS_T, Z_OBS_M, Z_OBS_ERR),
                      ("g", G_OBS_T, G_OBS_M, G_OBS_ERR)):
    fig.add_trace(go.Scatter(
        x=t, y=m, mode="markers", showlegend=False, cliponaxis=False,
        marker=dict(color=OBS_COLOR[band], size=17, line=dict(width=0)),
        error_y=dict(type="data", array=e, visible=True, color=OBS_COLOR[band], thickness=1.5, width=9),
    ))

shapes = []
annotations = []

# black frame at the top and left edge of the page
shapes.append(dict(type="rect", xref="paper", yref="paper", x0=px(-5), x1=px(30), y0=py(H + 5), y1=py(-5),
                   fillcolor="black", line=dict(width=0), layer="above"))
shapes.append(dict(type="rect", xref="paper", yref="paper", x0=px(-5), x1=px(W + 5), y0=py(12), y1=py(-5),
                   fillcolor="black", line=dict(width=0), layer="above"))

# key background masks the grid under the key rows
shapes.append(dict(type="rect", xref="paper", yref="paper", x0=0, x1=1, y0=py(212), y1=1,
                   fillcolor="white", line=dict(width=0), layer="between"))

# key: bands (left) and model types (right)
row_y = [97, 142, 187]
for i, band in enumerate(BAND_NAMES):
    annotations.append(dict(xref="paper", yref="paper", x=px(360), y=py(row_y[i]), text=band, showarrow=False,
                            xanchor="right", yanchor="middle", borderpad=0,
                            font=dict(size=FS_KEY, color="black", family=FONT)))
    shapes.append(dict(type="line", xref="paper", yref="paper", x0=px(384), x1=px(502), y0=py(row_y[i]),
                       y1=py(row_y[i]), line=dict(color=KEY_COLOR[band], width=4), layer="above"))
for i, name in enumerate(MODEL_NAMES):
    annotations.append(dict(xref="paper", yref="paper", x=px(1002), y=py(row_y[i]), text=name, showarrow=False,
                            xanchor="right", yanchor="middle", borderpad=0,
                            font=dict(size=FS_KEY, color="black", family=FONT)))
    shapes.append(dict(type="line", xref="paper", yref="paper", x0=px(1027), x1=px(1146), y0=py(row_y[i]),
                       y1=py(row_y[i]), line=dict(color="black", width=2.5, dash=KEY_DASH[name]), layer="above"))

# axis titles
annotations.append(dict(xref="paper", yref="paper", x=px(95), y=py(484), text="M - M<sub>z,dec</sub>",
                        textangle=-90, showarrow=False, xanchor="center", yanchor="middle",
                        font=dict(size=FS_TITLE, color="black", family=FONT)))
annotations.append(dict(xref="paper", yref="paper", x=px(698), y=py(1028), text="t / t<sub>z,dec</sub>",
                        showarrow=False, xanchor="center", yanchor="middle",
                        font=dict(size=FS_TITLE, color="black", family=FONT)))

axis_common = dict(
    ticks="inside", ticklen=18, tickwidth=1.2, tickcolor="#222",
    showline=True, linecolor="#222", linewidth=1.5, mirror="ticks",
    showgrid=True, gridcolor="#a8a8a8", gridwidth=1, griddash="1px,5px",
    zeroline=False, tickfont=dict(size=FS_TICK, color="black", family=FONT),
    ticklabeloverflow="allow",
)

fig.update_layout(
    width=W, height=H,
    margin=dict(l=ML, r=MR, t=MT, b=MB, autoexpand=False),
    paper_bgcolor="white", plot_bgcolor="white",
    font=dict(family=FONT, color="black"),
    xaxis=dict(type="log", range=[math.log10(0.3), math.log10(13)], tickmode="array",
               tickvals=X_TICKS, ticktext=["\u00a0" + s for s in X_TICK_TEXT], tickangle=0,
               ticklabelstandoff=9, **axis_common),
    yaxis=dict(range=[3, -3], tickmode="array", tickvals=Y_TICKS, ticktext=Y_TICK_TEXT,
               ticklabelstandoff=14, **axis_common),
    shapes=shapes, annotations=annotations, showlegend=False,
)

fig.write_html("out.html")
